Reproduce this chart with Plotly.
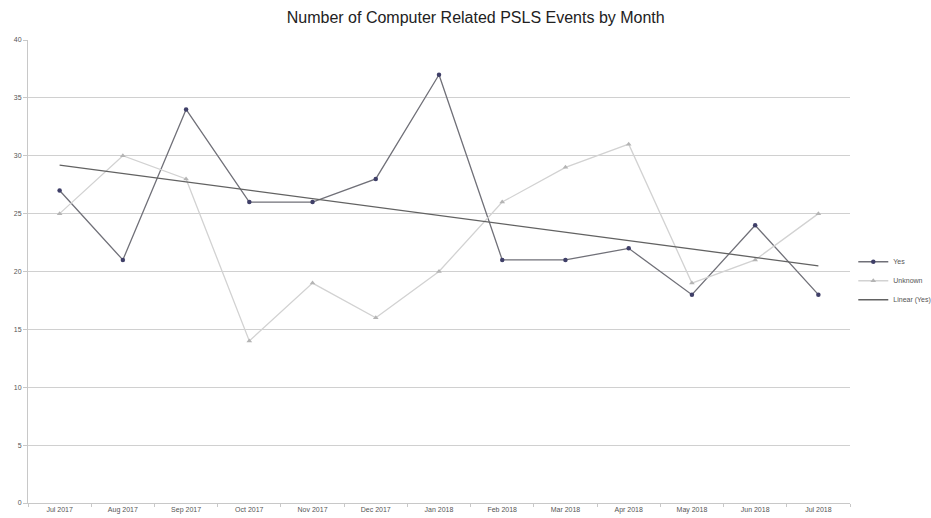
import numpy as np
import plotly.graph_objects as go

months = ["Jul 2017", "Aug 2017", "Sep 2017", "Oct 2017", "Nov 2017", "Dec 2017",
          "Jan 2018", "Feb 2018", "Mar 2018", "Apr 2018", "May 2018", "Jun 2018", "Jul 2018"]
yes_counts = [27, 21, 34, 26, 26, 28, 37, 21, 21, 22, 18, 24, 18]
unknown_counts = [25, 30, 28, 14, 19, 16, 20, 26, 29, 31, 19, 21, 25]
y_ticks = [0, 5, 10, 15, 20, 25, 30, 35, 40]

# Least-squares linear trend of the "Yes" series
idx = np.arange(len(yes_counts))
slope, intercept = np.polyfit(idx, yes_counts, 1)
trend = (slope * idx + intercept).tolist()

fig = go.Figure()
fig.add_trace(go.Scatter(
    x=months, y=yes_counts, name="Yes", mode="lines+markers",
    line=dict(color="#707078", width=1.3),
    marker=dict(symbol="circle", size=4.5, color="#3f3f68"),
))
fig.add_trace(go.Scatter(
    x=months, y=unknown_counts, name="Unknown", mode="lines+markers",
    line=dict(color="#d2d2d2", width=1.3),
    marker=dict(symbol="triangle-up", size=5, color="#b4b4b4"),
))
fig.add_trace(go.Scatter(
    x=months, y=trend, name="Linear (Yes)", mode="lines",
    line=dict(color="#626262", width=1.3),
))

fig.update_layout(
    width=931, height=518,
    margin=dict(l=28, r=81, t=40, b=15, autoexpand=False),
    paper_bgcolor="white", plot_bgcolor="white",
    font=dict(family="Liberation Sans Narrow, Arial", color="#555555", size=7),
    title=dict(text="Number of Computer Related PSLS Events by Month",
               x=0.511, xanchor="center", y=0.967, yanchor="middle",
               font=dict(size=16, color="#222222", family="Liberation Sans Narrow, Arial")),
    showlegend=True,
    legend=dict(x=1.004, xanchor="left", y=0.48, yanchor="middle",
                font=dict(size=7, color="#555555"), itemwidth=30,
                tracegroupgap=5, bgcolor="rgba(0,0,0,0)"),
    xaxis=dict(type="category", showgrid=False, showline=True, linecolor="#c8c8c8",
               ticks="outside", ticklen=3, tickcolor="#c8c8c8",
               tickson="boundaries", range=[-0.5, 12.5],
               tickfont=dict(size=7, color="#555555")),
    yaxis=dict(range=[0, 40], tickvals=y_ticks, showgrid=True, gridcolor="#d0d0d0",
               gridwidth=1, showline=True, linecolor="#c8c8c8",
               ticks="outside", ticklen=4, tickcolor="#c8c8c8", zeroline=False,
               tickfont=dict(size=7, color="#555555")),
)

fig.write_html("out.html")
